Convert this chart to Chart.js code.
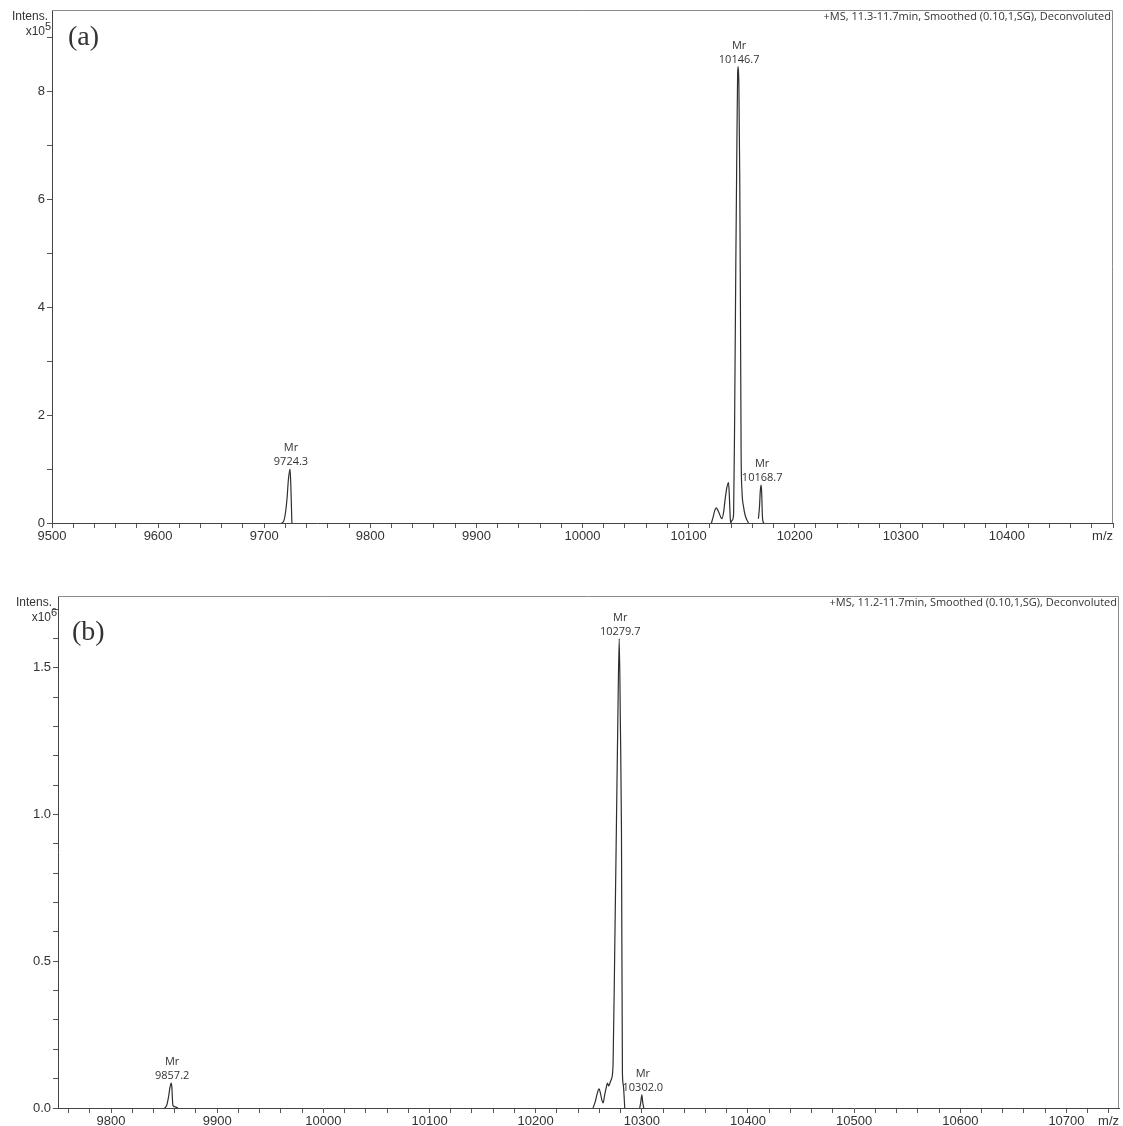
<!DOCTYPE html>
<html>
<head>
<meta charset="utf-8">
<script src="https://cdn.jsdelivr.net/npm/chart.js@4.4.1/dist/chart.umd.min.js"></script>
<style>
  html, body { margin: 0; padding: 0; background: #fff; }
  .panel { position: absolute; left: 0; }
  #boxA { top: 0; }
  #boxB { top: 565px; }
</style>
</head>
<body>
<div class="panel" id="boxA"><canvas id="chartA" width="1123" height="565"></canvas></div>
<div class="panel" id="boxB"><canvas id="chartB" width="1123" height="561"></canvas></div>
<script>
// ---- panel (a): deconvoluted spectrum, intensity x10^5 ----
const aMass = [
  9716.5, 9718.5, 9720, 9721.5, 9722.8, 9724.3, 9725.0, 9725.6, 9726.1,
  9900,
  10121.5, 10123, 10124.5, 10126, 10127.5, 10129, 10130.5, 10131.5, 10133, 10134.5,
  10136, 10137.6, 10138.3, 10139, 10139.6,
  10141, 10142.4, 10143.5, 10144.5, 10145.5, 10146.2, 10146.7, 10147.4, 10148.2,
  10148.9, 10149.5, 10150.3, 10151.8, 10153.5, 10156.5,
  10160,
  10165.8, 10166.8, 10167.6, 10168.4, 10168.9, 10169.4, 10169.9, 10171
];
const aIntens = [
  0, 0.04, 0.18, 0.45, 0.8, 1.0, 0.75, 0.35, 0,
  null,
  0, 0.1, 0.22, 0.28, 0.24, 0.17, 0.1, 0.08, 0.2, 0.45,
  0.65, 0.75, 0.55, 0.2, 0,
  0.05, 0.15, 2.2, 4.8, 7.0, 8.3, 8.45, 8.1, 6.4,
  3.8, 1.3, 0.6, 0.3, 0.13, 0,
  null,
  0.08, 0.3, 0.6, 0.7, 0.55, 0.2, 0.05, 0
];
const aPeakLabels = ['9724.3', '10146.7', '10168.7'];
const aPeakMass = [9724.3, 10146.7, 10168.7];

// ---- panel (b): deconvoluted spectrum, intensity x10^6 ----
const bMass = [
  9850.5, 9852.5, 9854, 9855.5, 9856.6, 9857.3, 9857.8, 9858.3, 9860.5, 9863,
  10000,
  10254, 10256, 10258, 10259.7, 10261, 10262.5, 10263.5, 10265, 10266.5, 10267.6,
  10268.8, 10270.4, 10271.5, 10272.9, 10274.5, 10276, 10277.3, 10278.7, 10279.8,
  10280.8, 10281.7, 10282.5, 10283.9,
  10290,
  10298, 10299, 10300, 10300.8, 10301.8
];
const bIntens = [
  0, 0.01, 0.035, 0.07, 0.085, 0.07, 0.03, 0.008, 0.004, 0,
  null,
  0, 0.02, 0.05, 0.065, 0.05, 0.025, 0.017, 0.045, 0.07, 0.085,
  0.075, 0.09, 0.1, 0.15, 0.55, 0.95, 1.3, 1.6, 1.3,
  0.95, 0.12, 0.08, 0,
  null,
  0, 0.02, 0.045, 0.02, 0
];
const bPeakLabels = ['9857.2', '10279.7', '10302.0'];
const bPeakMass = [9857.2, 10279.7, 10300];

const TEXT = '#333';
const tickFont = { family: 'Liberation Sans, Arial, sans-serif', size: 13 };

function toPoints(xs, ys) {
  return xs.map((x, i) => ({ x: x, y: ys[i] }));
}

// frame, header text, axis unit, panel letter, peak labels, m/z
function decor(opt) {
  return {
    id: 'decor',
    afterDraw(chart) {
      const ctx = chart.ctx, ca = chart.chartArea;
      const xs = chart.scales.x, ys = chart.scales.y;
      ctx.save();
      // top + right frame
      ctx.strokeStyle = '#8a8a8a';
      ctx.lineWidth = 1;
      ctx.beginPath();
      ctx.moveTo(ca.left, ca.top + 0.5);
      ctx.lineTo(ca.right - 0.5, ca.top + 0.5);
      ctx.lineTo(ca.right - 0.5, ca.bottom);
      ctx.stroke();

      ctx.fillStyle = TEXT;
      // header
      ctx.font = '11px "Open Sans", sans-serif';
      ctx.textAlign = 'right';
      ctx.textBaseline = 'alphabetic';
      ctx.fillText(opt.header, ca.right - 2, ca.top + 10);

      // Intens. x10^n
      ctx.font = '12px "Liberation Sans", Arial, sans-serif';
      ctx.fillText('Intens.', ca.left - opt.unitShift, ca.top + 10);
      ctx.fillText('x10', ca.left - 7, ca.top + 25);
      ctx.font = '11px "Liberation Sans", Arial, sans-serif';
      ctx.textAlign = 'left';
      ctx.fillText(opt.exp, ca.left - 7, ca.top + 20);

      // panel letter
      ctx.font = '28px "Liberation Serif", "Times New Roman", serif';
      ctx.fillText(opt.letter, ca.left + opt.letterX, ca.top + opt.letterY);

      // m/z
      ctx.font = tickFont.size + 'px ' + tickFont.family;
      ctx.textAlign = 'right';
      ctx.textBaseline = 'middle';
      ctx.fillText('m/z', ca.right, ca.bottom + 13);

      // peak labels at the apex of each peak
      ctx.font = '11px "Open Sans", sans-serif';
      ctx.textAlign = 'center';
      ctx.textBaseline = 'alphabetic';
      opt.peakMass.forEach((m, k) => {
        let best = null;
        opt.mass.forEach((x, i) => {
          if (opt.intens[i] == null || Math.abs(x - m) > 3) return;
          if (best == null || opt.intens[i] > opt.intens[best]) best = i;
        });
        if (best == null) return;
        const px = xs.getPixelForValue(opt.mass[best]) + 1;
        const py = ys.getPixelForValue(opt.intens[best]);
        ctx.fillText('Mr', px, py - 18);
        ctx.fillText(opt.peakLabels[k], px, py - 4);
      });
      ctx.restore();
    }
  };
}

function makeChart(id, opt) {
  const ctx = document.getElementById(id).getContext('2d');
  return new Chart(ctx, {
    type: 'line',
    data: {
      datasets: [{
        data: toPoints(opt.mass, opt.intens),
        borderColor: '#2e2e2e',
        borderWidth: 1.2,
        pointRadius: 0,
        fill: false,
        spanGaps: false,
        cubicInterpolationMode: 'monotone'
      }]
    },
    options: {
      responsive: false,
      animation: false,
      events: [],
      layout: { padding: { top: opt.top, right: opt.right, left: 0, bottom: 0 } },
      plugins: { legend: { display: false }, tooltip: { enabled: false } },
      scales: {
        x: {
          type: 'linear',
          min: opt.xMin,
          max: opt.xMax,
          ticks: {
            stepSize: 20,
            includeBounds: false,
            autoSkip: false,
            maxRotation: 0,
            padding: 1,
            color: TEXT,
            font: tickFont,
            callback: v => (Math.round(v) % 100 === 0 && Math.round(v) < opt.xMax) ? String(Math.round(v)) : ''
          },
          grid: { drawOnChartArea: false, tickLength: 5, color: '#555' },
          border: { color: '#444', width: 1 },
          afterFit: s => { s.height = opt.xAxisH; s.paddingLeft = 0; s.paddingRight = 0; }
        },
        y: {
          min: 0,
          max: opt.yMax,
          ticks: {
            stepSize: opt.yStep,
            includeBounds: false,
            padding: 2,
            color: TEXT,
            font: tickFont,
            callback: opt.yLabel
          },
          grid: { drawOnChartArea: false, tickLength: 5, color: '#555' },
          border: { color: '#444', width: 1 },
          afterFit: s => { s.width = opt.left; s.paddingTop = 0; s.paddingBottom = 0; }
        }
      }
    },
    plugins: [decor(opt)]
  });
}

makeChart('chartA', {
  mass: aMass, intens: aIntens, peakMass: aPeakMass, peakLabels: aPeakLabels,
  xMin: 9500, xMax: 10500, yMax: 9.5, yStep: 1,
  yLabel: v => (Math.round(v) % 2 === 0 ? String(Math.round(v)) : ''),
  left: 52, top: 10, right: 10, xAxisH: 42,
  header: '+MS, 11.3-11.7min, Smoothed (0.10,1,SG), Deconvoluted',
  exp: '5', letter: '(a)', letterX: 16, letterY: 35, unitShift: 4
});

makeChart('chartB', {
  mass: bMass, intens: bIntens, peakMass: bPeakMass, peakLabels: bPeakLabels,
  xMin: 9750, xMax: 10749.5, yMax: 1.745, yStep: 0.1,
  yLabel: v => (Math.round(v * 10) % 5 === 0 ? v.toFixed(1) : ''),
  left: 58, top: 31, right: 4, xAxisH: 18,
  header: '+MS, 11.2-11.7min, Smoothed (0.10,1,SG), Deconvoluted',
  exp: '6', letter: '(b)', letterX: 14, letterY: 44, unitShift: 6
});
</script>
</body>
</html>
